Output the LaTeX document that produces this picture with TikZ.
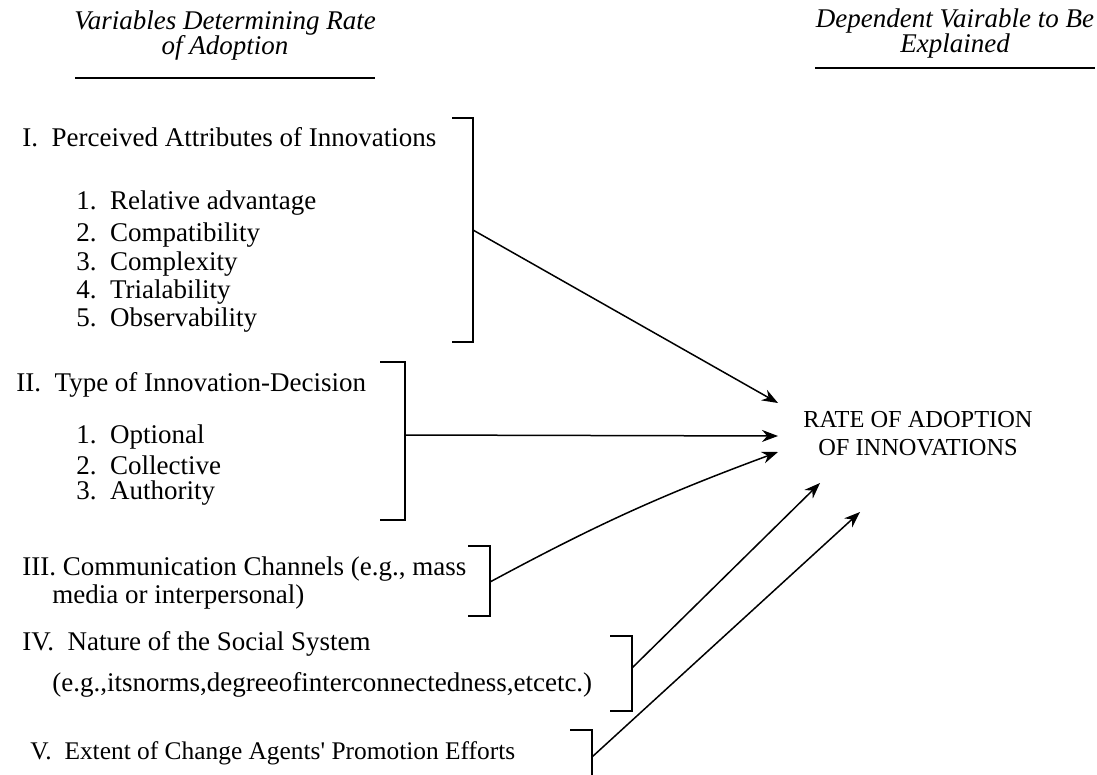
\documentclass[tikz,border=0pt]{standalone}
\usepackage{fontspec}
\setmainfont{Liberation Serif}
\usetikzlibrary{arrows.meta}
\begin{document}
\begin{tikzpicture}[x=0.5pt,y=-0.5pt,
  txt/.style={anchor=west,inner sep=0pt,font=\fontsize{13.5}{15}\selectfont},
  hdr/.style={align=center,inner sep=0pt,font=\fontsize{13.5}{12.5}\selectfont\itshape},
  brk/.style={line width=0.8pt},
  arr/.style={line width=0.75pt,-{Stealth[length=8pt,width=6pt]}},
  rule/.style={line width=0.8pt}]
\useasboundingbox (0,0) rectangle (1097,775);
% headers
\node[hdr] (h1) at (225,36) {Variables Determining Rate\\of Adoption};
\node[hdr] (h2) at (955,34) {Dependent Vairable to Be\\Explained};
\draw[rule] (75,78) -- (375,78);
\draw[rule] (815,68) -- (1095,68);
% group I
\node[txt] (t1) at (22,137) {I.\ \ Perceived Attributes of Innovations};
\node[txt] (t1a) at (76,203) {1.\ \ Relative advantage};
\node[txt] (t1b) at (76,235) {2.\ \ Compatibility};
\node[txt] (t1c) at (76,264) {3.\ \ Complexity};
\node[txt] (t1d) at (76,292) {4.\ \ Trialability};
\node[txt] (t1e) at (76,320) {5.\ \ Observability};
\draw[brk] (452,118) -- (473,118) -- (473,342) -- (452,342);
\coordinate (b1) at (473,230);
% group II
\node[txt] (t2) at (16,385) {II.\ \ Type of Innovation-Decision};
\node[txt] (t2a) at (76,437) {1.\ \ Optional};
\node[txt] (t2b) at (76,465) {2.\ \ Collective};
\node[txt] (t2c) at (76,493) {3.\ \ Authority};
\draw[brk] (380,362) -- (405,362) -- (405,520) -- (380,520);
\coordinate (b2) at (405,435);
% group III
\node[txt] (t3) at (22,569) {III.\ Communication Channels (e.g., mass};
\node[txt] (t3b) at (52,597) {media or interpersonal)};
\draw[brk] (468,546) -- (490,546) -- (490,616) -- (468,616);
\coordinate (b3) at (490,582);
% group IV
\node[txt] (t4) at (22,644) {IV.\ \ Nature of the Social System};
\node[txt] (t4b) at (52,685) {(e.g.,itsnorms,degreeofinterconnectedness,etcetc.)};
\draw[brk] (610,636) -- (632,636) -- (632,711) -- (610,711);
\coordinate (b4) at (632,668);
% group V
\node[txt,font=\fontsize{12.7}{15}\selectfont] (t5) at (30,753) {V.\ \ Extent of Change Agents\textquotesingle\ Promotion Efforts};
\draw[brk] (570,730) -- (592,730) -- (592,775);
\coordinate (b5) at (592,757);
% target
\node[align=center,inner sep=0pt,font=\fontsize{12.2}{14}\selectfont] (rate) at (918,434) {RATE OF ADOPTION\\OF INNOVATIONS};
\coordinate (e1) at (778,403);
\coordinate (e2) at (778,436);
\coordinate (e3) at (778,452);
\coordinate (e4) at (820,483);
\coordinate (e5) at (860,512);
\draw[arr] (b1) -- (e1);
\draw[arr] (b2) -- (e2);
\draw[arr] (b3) to[bend left=4] (e3);
\draw[arr] (b4) -- (e4);
\draw[arr] (b5) -- (e5);
\end{tikzpicture}
\end{document}
